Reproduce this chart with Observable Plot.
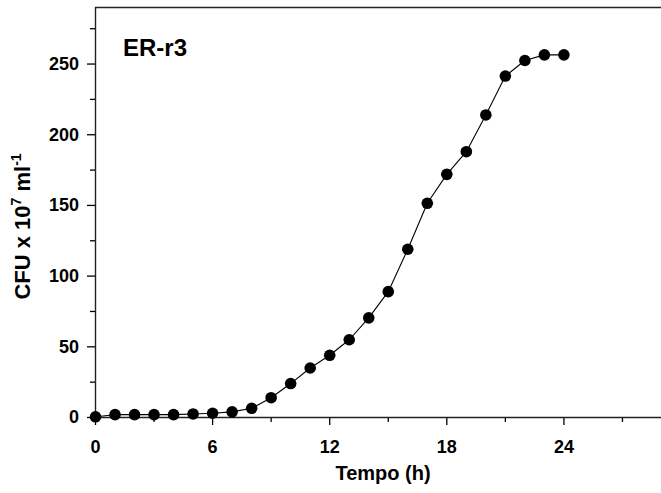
<!DOCTYPE html>
<html>
<head>
<meta charset="utf-8">
<script src="https://cdn.jsdelivr.net/npm/d3@7"></script>
<script src="https://cdn.jsdelivr.net/npm/@observablehq/plot@0.6"></script>
<style>
  html, body { margin: 0; padding: 0; background: #fff; overflow: hidden; }
  svg { display: block; }
</style>
</head>
<body>
<div id="chart"></div>
<script>
const hours = [0,1,2,3,4,5,6,7,8,9,10,11,12,13,14,15,16,17,18,19,20,21,22,23,24];
const cfu = [0.5,2,2,2,2,2.5,3,4,6.5,14,24,35,44,55,70.5,89,119,151.5,172,188,214,241.5,252.5,256.5,256.5];
const xMajor = [0,6,12,18,24];
const xMinor = [3,9,15,21,27];
const yMajor = [0,50,100,150,200,250];
const yMinor = [25,75,125,175,225,275];
const panelLabel = "ER-r3";
const xLabel = "Tempo (h)";

const data = hours.map((h, i) => ({h, v: cfu[i]}));
const font = "'Liberation Sans', Arial, Helvetica, sans-serif";

const plot = Plot.plot({
  width: 661,
  height: 493,
  marginLeft: 95,
  marginRight: 0,
  marginTop: 7,
  marginBottom: 76,
  style: {fontFamily: font, fontSize: "18px", fontWeight: "bold", color: "#000", background: "#fff"},
  x: {domain: [0, 29]},
  y: {domain: [0, 290]},
  marks: [
    Plot.axisY({ticks: yMajor, tickSize: 8, tickPadding: 8.5, tickFormat: d => d, label: null, strokeWidth: 1.3, fontSize: 18, fontWeight: "bold"}),
    Plot.axisY({ticks: yMinor, tickSize: 5, tickFormat: () => "", label: null, strokeWidth: 1.3}),
    Plot.axisX({ticks: xMajor, tickSize: 8, tickPadding: 15, tickFormat: d => d, label: null, strokeWidth: 1.3, fontSize: 18, fontWeight: "bold"}),
    Plot.axisX({ticks: xMinor, tickSize: 5, tickFormat: () => "", label: null, strokeWidth: 1.3}),
    Plot.ruleX([0], {stroke: "#222", strokeWidth: 1.4}),
    Plot.ruleY([0], {stroke: "#222", strokeWidth: 1.4}),
    Plot.ruleY([290], {stroke: "#222", strokeWidth: 1.4}),
    Plot.line(data, {x: "h", y: "v", stroke: "#000", strokeWidth: 1.1}),
    Plot.dot(data, {x: "h", y: "v", r: 5.8, fill: "#000", stroke: "none"}),
    Plot.text([panelLabel], {frameAnchor: "top-left", dx: 27.5, dy: 31, text: d => d, textAnchor: "start", lineAnchor: "top", fontSize: 24, fontWeight: "bold", fill: "#000"}),
    Plot.text([xLabel], {frameAnchor: "bottom", dx: 4.5, dy: 56, text: d => d, lineAnchor: "middle", fontSize: 20, fontWeight: "bold", fill: "#000"})
  ]
});

const svg = d3.select(plot);
const yl = svg.append("text")
  .attr("transform", "translate(30,226.5) rotate(-90)")
  .attr("text-anchor", "middle")
  .style("font-family", font)
  .style("font-weight", "bold")
  .style("font-size", "22px")
  .attr("fill", "#000");
yl.append("tspan").text("CFU x 10");
yl.append("tspan").style("font-size", "14px").attr("dy", -9).text("7");
yl.append("tspan").attr("dy", 9).text(" ml");
yl.append("tspan").style("font-size", "14px").attr("dy", -9).text("-1");

document.getElementById("chart").appendChild(plot);
</script>
</body>
</html>
